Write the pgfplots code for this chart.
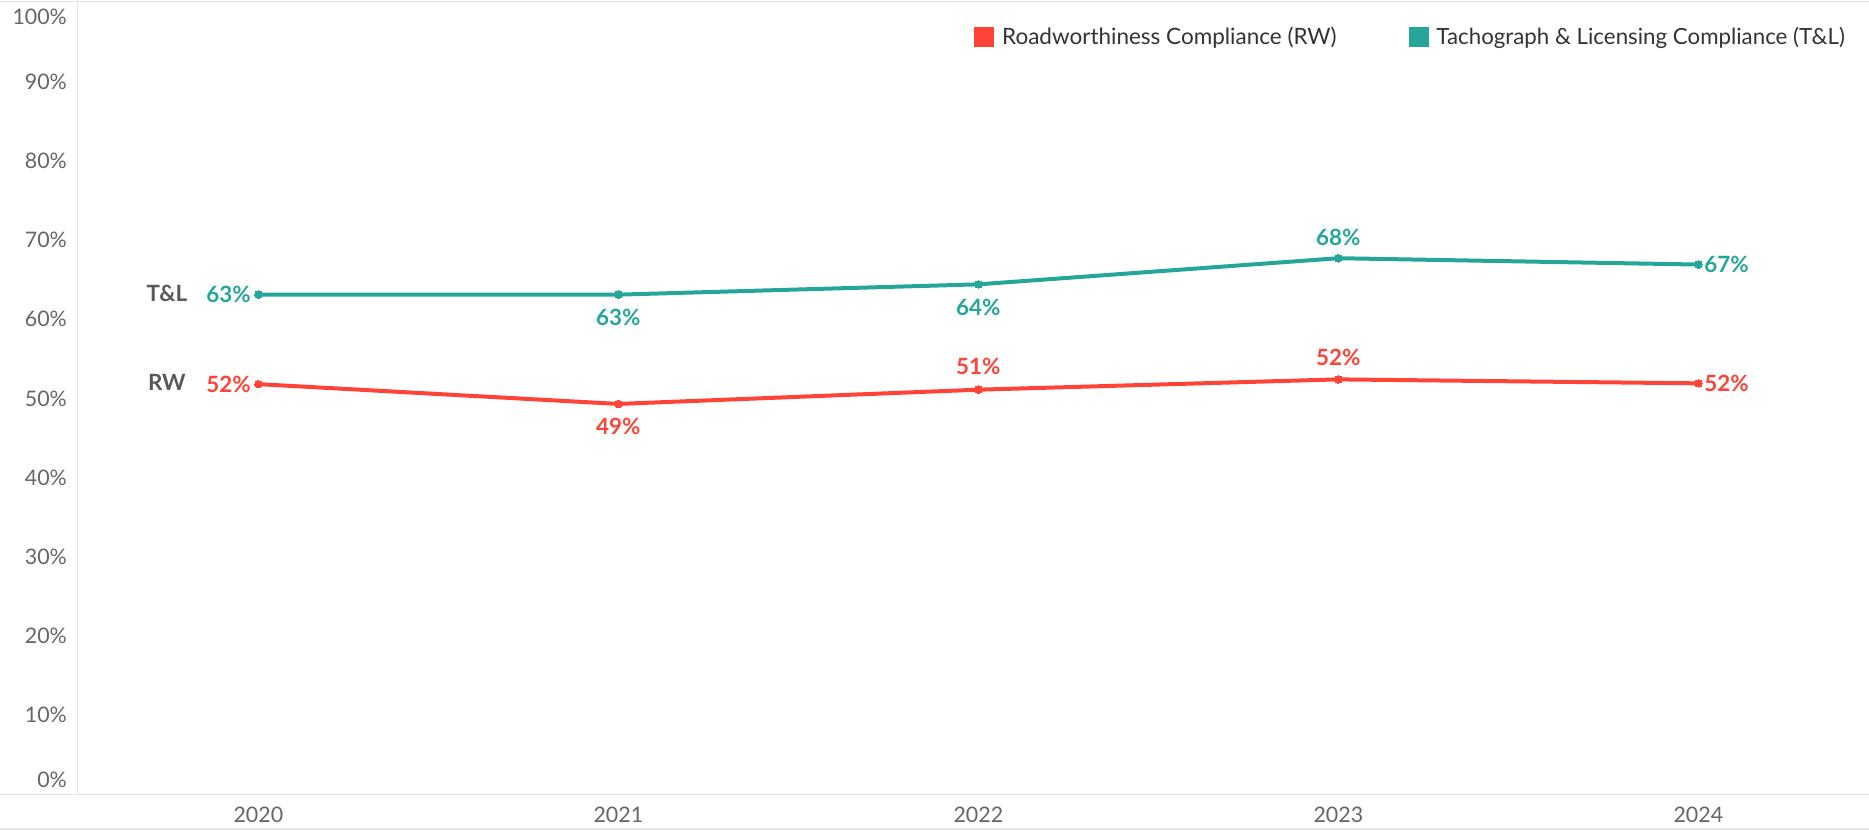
\documentclass[border=0pt]{standalone}
\usepackage{pgfplots}
\usepackage{pgfplotstable}
\pgfplotsset{compat=1.18}
\usepackage{fontspec}
\setmainfont{Lato}
\definecolor{rw}{HTML}{FF4338}
\definecolor{tl}{HTML}{26A69A}
\definecolor{ticktext}{HTML}{666666}
\definecolor{legtext}{HTML}{333333}
\definecolor{framecol}{HTML}{E3E3E3}
\definecolor{seriestag}{HTML}{595959}
\tikzset{lab/.style={inner sep=0pt, font=\fontsize{11.2}{13}\selectfont\bfseries}}

\pgfplotstableread{
x y
0 63.1
1 63.1
2 64.4
3 67.7
4 66.9
}\tldata
\pgfplotstableread{
x y
0 51.8
1 49.3
2 51.1
3 52.4
4 51.9
}\rwdata

\begin{document}
\begin{tikzpicture}
\useasboundingbox (0,0) rectangle (934.5pt,415pt);
% frame lines
\draw[framecol, line width=0.8pt] (0,414.2pt) -- (934.5pt,414.2pt);
\draw[framecol, line width=0.8pt] (0,0.5pt) -- (934.5pt,0.5pt);
\draw[framecol, line width=0.75pt] (0,17.8pt) -- (934.5pt,17.8pt);
\begin{axis}[
  at={(38.65pt,17.8pt)}, anchor=south west,
  scale only axis,
  width=895.85pt, height=396pt,
  xmin=-0.503, xmax=4.474,
  ymin=0, ymax=100,
  axis x line*=bottom, axis y line*=left,
  x axis line style={draw=none},
  y axis line style={draw=framecol, line width=0.75pt, -},
  major tick length=0pt,
  xtick={0,1,2,3,4},
  xticklabels={2020,2021,2022,2023,2024},
  ytick={0,10,...,100},
  yticklabel={\ifcase\ticknum\raisebox{7.3pt}[\height][\depth]{0\%}\or10\%\or20\%\or30\%\or40\%\or50\%\or60\%\or70\%\or80\%\or90\%\or\raisebox{-7.3pt}[\height][\depth]{100\%}\fi},
  tick label style={font=\fontsize{10.7}{12}\selectfont, text=ticktext, inner sep=0pt},
  yticklabel style={anchor=east, xshift=-5pt},
  xticklabel style={anchor=north, yshift=-6pt},
  clip=false,
]
\addplot[color=tl, line width=2pt, mark=*, mark size=1.9pt,
  mark options={solid, fill=tl, draw=tl, line width=0pt}] table[x=x, y=y] {\tldata};
\addplot[color=rw, line width=2pt, mark=*, mark size=1.9pt,
  mark options={solid, fill=rw, draw=rw, line width=0pt}] table[x=x, y=y] {\rwdata};
% T&L value labels
\node[lab, text=tl, anchor=east, xshift=-3.6pt] at (axis cs:0,63.1) {63\%};
\node[lab, text=tl, anchor=north, yshift=-6.8pt] at (axis cs:1,63.1) {63\%};
\node[lab, text=tl, anchor=north, yshift=-7.0pt] at (axis cs:2,64.4) {64\%};
\node[lab, text=tl, anchor=south, yshift=6.2pt] at (axis cs:3,67.7) {68\%};
\node[lab, text=tl, anchor=west, xshift=2.8pt] at (axis cs:4,66.9) {67\%};
% RW value labels
\node[lab, text=rw, anchor=east, xshift=-3.6pt] at (axis cs:0,51.8) {52\%};
\node[lab, text=rw, anchor=north, yshift=-7.1pt] at (axis cs:1,49.3) {49\%};
\node[lab, text=rw, anchor=south, yshift=7.1pt] at (axis cs:2,51.1) {51\%};
\node[lab, text=rw, anchor=south, yshift=6.6pt] at (axis cs:3,52.4) {52\%};
\node[lab, text=rw, anchor=west, xshift=2.8pt] at (axis cs:4,51.9) {52\%};
% series tags
\node[text=seriestag, font=\fontsize{11.2}{13}\selectfont\bfseries, inner sep=0pt] at (axis cs:-0.254,63.2) {T\&L};
\node[text=seriestag, font=\fontsize{11.2}{13}\selectfont\bfseries, inner sep=0pt] at (axis cs:-0.254,52.0) {RW};
\end{axis}
% legend
\fill[rw] (487pt,391.65pt) rectangle (497pt,401.65pt);
\node[anchor=base west, inner sep=0pt, text=legtext, font=\fontsize{11.25}{13}\selectfont] at (500.85pt,392.5pt) {Roadworthiness Compliance (RW)};
\fill[tl] (704.5pt,391.65pt) rectangle (714.5pt,401.65pt);
\node[anchor=base west, inner sep=0pt, text=legtext, font=\fontsize{11.15}{13}\selectfont] at (718pt,392.5pt) {Tachograph \& Licensing Compliance (T\&L)};
\end{tikzpicture}
\end{document}
